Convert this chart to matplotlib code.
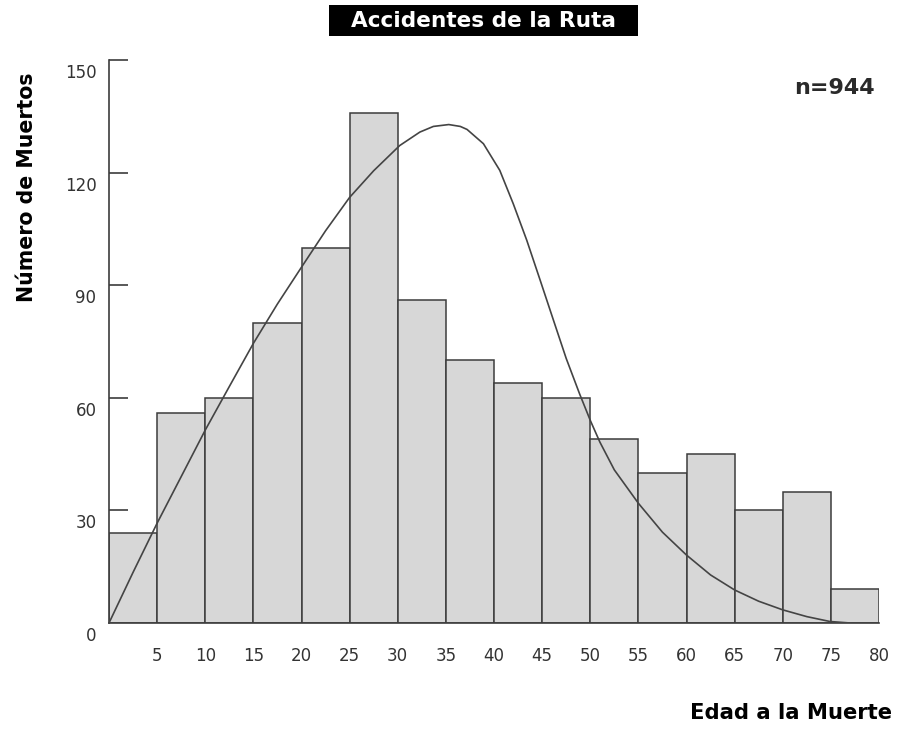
import numpy as np
import matplotlib
matplotlib.use("Agg")
import matplotlib.pyplot as plt
from matplotlib.patches import Rectangle
from matplotlib.transforms import ScaledTranslation

# age classes (left edge of each 5-year bin) and deaths per class
bin_start = [0, 5, 10, 15, 20, 25, 30, 35, 40, 45, 50, 55, 60, 65, 70, 75]
deaths = [24, 56, 60, 80, 100, 136, 86, 70, 64, 60, 49, 40, 45, 30, 35, 9]
bin_width = 5

# fitted curve
curve_age = [0, 2.5, 5, 7.5, 10, 12.5, 15, 17.5, 20, 22.5, 25, 27.5, 30.2,
             32.3, 33.7, 35.3, 36.5, 37.2, 38.9, 40.6, 42.0, 43.4, 44.8, 46.2,
             47.5, 48.9, 50, 51, 52.5, 55, 57.5, 60, 62.5, 65, 67.5, 70,
             72.5, 74.9, 77]
curve_val = [0, 13.5, 26.6, 39, 51.4, 63, 74.5, 85, 94.8, 104.5, 113.4, 120.5,
             127.2, 130.8, 132.3, 132.8, 132.3, 131.5, 127.7, 120.6, 111.7,
             102, 91.3, 80.5, 70.5, 61, 54, 48.2, 40.8, 31.9, 24.2, 18.1,
             12.8, 8.8, 5.8, 3.5, 1.7, 0.4, 0]

x_ticks = [5, 10, 15, 20, 25, 30, 35, 40, 45, 50, 55, 60, 65, 70, 75, 80]
y_ticks = [0, 30, 60, 90, 120, 150]

title = "Accidentes de la Ruta"
n_label = "n=944"

ink = "#3c3c3c"

fig = plt.figure(figsize=(9.07, 7.3), dpi=100)
ax = fig.add_axes([109 / 907, 1 - 623 / 730, 770 / 907, 563 / 730])

ax.bar(bin_start, deaths, width=bin_width, align="edge", color="#d7d7d7",
       edgecolor=ink, linewidth=1.1, zorder=2)
ax.plot(curve_age, curve_val, color="#444444", linewidth=1.2,
        solid_joinstyle="round", zorder=3)

ax.set_xlim(0, 80)
ax.set_ylim(0, 150)

for s in ["top", "right"]:
    ax.spines[s].set_visible(False)
for s in ["left", "bottom"]:
    ax.spines[s].set_color(ink)
    ax.spines[s].set_linewidth(1.2)

ax.set_xticks(x_ticks)
ax.set_xticklabels([str(v) for v in x_ticks])
ax.tick_params(axis="x", length=0, pad=17, labelsize=12, labelcolor="#333333")

ax.set_yticks(y_ticks)
ax.set_yticklabels([str(v) for v in y_ticks])
ax.tick_params(axis="y", direction="in", length=14, width=1.2, color=ink,
               pad=9, labelsize=12, labelcolor="#333333")
ax.yaxis.get_major_ticks()[0].tick1line.set_visible(False)
# labels sit a bit below their tick marks in the original
shift = ScaledTranslation(0, -0.11, fig.dpi_scale_trans)
for lab in ax.get_yticklabels():
    lab.set_transform(lab.get_transform() + shift)

# black title banner
fig.patches.append(Rectangle((329 / 907, 1 - 36 / 730), 309 / 907, 31 / 730,
                             transform=fig.transFigure, facecolor="black",
                             edgecolor="none", zorder=5))
fig.text(483.5 / 907, 1 - 21 / 730, title, color="white", fontsize=15.6,
         fontweight="bold", ha="center", va="center", zorder=6)

fig.text(834 / 907, 1 - 88 / 730, n_label, color="#2a2a2a", fontsize=16,
         fontweight="bold", ha="center", va="center")

fig.text(27 / 907, 1 - 187 / 730, "Número de Muertos", rotation=90,
         fontsize=14.8, fontweight="bold", ha="center", va="center")
fig.text(791 / 907, 1 - 713 / 730, "Edad a la Muerte", fontsize=15.2,
         fontweight="bold", ha="center", va="center")

fig.savefig("out.png", dpi=100)
